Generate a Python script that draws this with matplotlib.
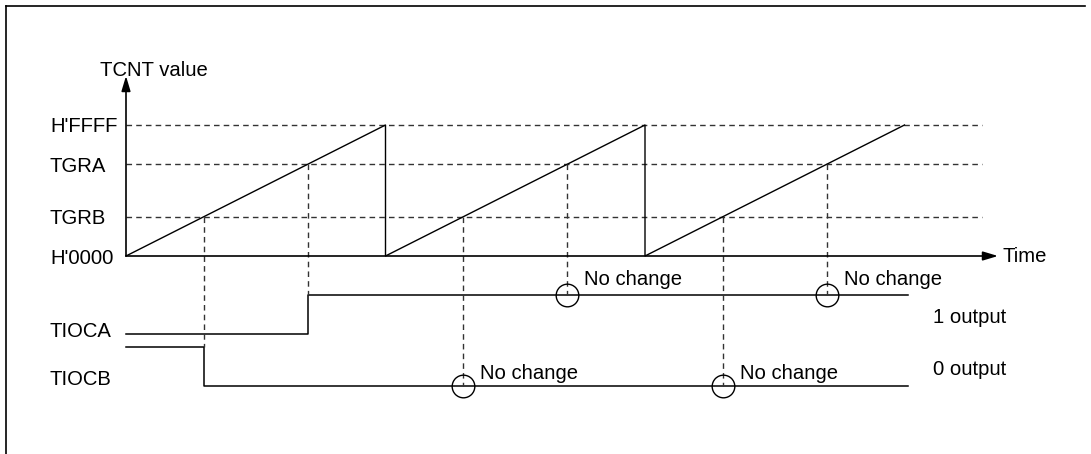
import matplotlib
matplotlib.use("Agg")
import matplotlib.pyplot as plt
from matplotlib.lines import Line2D

# ---------------- data ----------------
level_labels = ["H'0000", "TGRB", "TGRA", "H'FFFF"]
level_values = [0.0, 0.30, 0.70, 1.0]          # counter value (fraction of H'FFFF)

counter_t = [0, 1, 1, 2, 2, 3]                  # time in counter periods
counter_v = [0, 1, 0, 1, 0, 1]                  # TCNT value

tgrb_match_t = [0.30, 1.30, 2.30]
tgra_match_t = [0.70, 1.70, 2.70]

tioca_t = [0, 0.70, 0.70, 3.015]
tioca_state = [0, 0, 1, 1]
tiocb_t = [0, 0.30, 0.30, 3.015]
tiocb_state = [1, 1, 0, 0]

tioca_nochange_t = [1.70, 2.70]
tiocb_nochange_t = [1.30, 2.30]

signal_labels = ["TIOCA", "TIOCB"]
output_labels = ["1 output", "0 output"]
nochange_text = "No change"

# ---------------- layout ----------------
W, H, DPI = 1091, 454, 100
PX_X = 259.5      # px per counter period
PX_Y = 131.0      # px per full counter range
X0, Y0 = 126, 256 # pixel position of origin

def dx(px):  # px offset -> data x
    return px / PX_X

def dy(px):  # px offset (downwards positive) -> data y
    return -px / PX_Y

def X(px):   # absolute pixel x -> data
    return (px - X0) / PX_X

def Y(px):   # absolute pixel y -> data
    return (Y0 - px) / PX_Y

plt.rcParams['font.family'] = ['Liberation Sans', 'DejaVu Sans']
FS = 14.6

fig = plt.figure(figsize=(W / DPI, H / DPI), dpi=DPI)
ax = fig.add_axes([0, 0, 1, 1])
ax.set_xlim(X(0), X(W))
ax.set_ylim(Y(H), Y(0))
ax.axis('off')

# border (top and left)
fig.add_artist(Line2D([6 / W, 6 / W], [1 - 6 / H, 0], color='black', lw=1.2))
fig.add_artist(Line2D([6 / W, 1085 / W], [1 - 6 / H, 1 - 6 / H], color='black', lw=1.2))

dash = (0, (4.0, 3.0))
dcol = '#333333'

# axes arrows
ax.annotate('', xy=(0, Y(76)), xytext=(0, 0),
            arrowprops=dict(arrowstyle='-|>,head_length=0.6,head_width=0.18',
                            color='black', lw=1.2, shrinkA=0, shrinkB=0,
                            mutation_scale=15))
ax.annotate('', xy=(X(998), 0), xytext=(0, 0),
            arrowprops=dict(arrowstyle='-|>,head_length=0.6,head_width=0.18',
                            color='black', lw=1.2, shrinkA=0, shrinkB=0,
                            mutation_scale=15))
ax.text(X(100), Y(76), "TCNT value", fontsize=FS, ha='left', va='baseline')
ax.text(X(1003), Y(262), "Time", fontsize=FS, ha='left', va='baseline')

# level labels and dashed level lines
for lab, v in zip(level_labels, level_values):
    ax.text(X(50), v + dy(7.5), lab, fontsize=FS, ha='left', va='baseline')
    if v > 0:
        ax.plot([0, X(982)], [v, v], color=dcol, lw=1.0, linestyle=dash)

# counter sawtooth
ax.plot(counter_t, counter_v, color='black', lw=1.0)

# output levels (layout)
A_low, A_high = Y(334), Y(295)
B_low, B_high = Y(386), Y(347)

def lvl(states, lo, hi):
    return [hi if s else lo for s in states]

ax.plot(tioca_t, lvl(tioca_state, A_low, A_high), color='black', lw=1.1)
ax.plot(tiocb_t, lvl(tiocb_state, B_low, B_high), color='black', lw=1.1)

# vertical dashed lines from compare matches
tgrb = level_values[1]
tgra = level_values[2]
for i, t in enumerate(tgrb_match_t):
    bottom = B_high if i == 0 else B_low
    ax.plot([t, t], [tgrb, bottom], color=dcol, lw=1.0, linestyle=dash)
for i, t in enumerate(tgra_match_t):
    ax.plot([t, t], [tgra, A_high], color=dcol, lw=1.0, linestyle=dash)

# "No change" markers
ax.plot(tioca_nochange_t, [A_high] * len(tioca_nochange_t), linestyle='none',
        marker='o', ms=16.3, mfc='none', mec='black', mew=1.0)
ax.plot(tiocb_nochange_t, [B_low] * len(tiocb_nochange_t), linestyle='none',
        marker='o', ms=16.3, mfc='none', mec='black', mew=1.0)
for t in tioca_nochange_t:
    ax.text(t + dx(17), Y(285), nochange_text, fontsize=FS, ha='left', va='baseline')
for t in tiocb_nochange_t:
    ax.text(t + dx(17), Y(379), nochange_text, fontsize=FS, ha='left', va='baseline')

# signal names and output labels
ax.text(X(50), Y(337), signal_labels[0], fontsize=FS, ha='left', va='baseline')
ax.text(X(50), Y(385), signal_labels[1], fontsize=FS, ha='left', va='baseline')
ax.text(X(933), Y(323), output_labels[0], fontsize=FS, ha='left', va='baseline')
ax.text(X(933), Y(375), output_labels[1], fontsize=FS, ha='left', va='baseline')

fig.savefig("out.png", dpi=DPI)
